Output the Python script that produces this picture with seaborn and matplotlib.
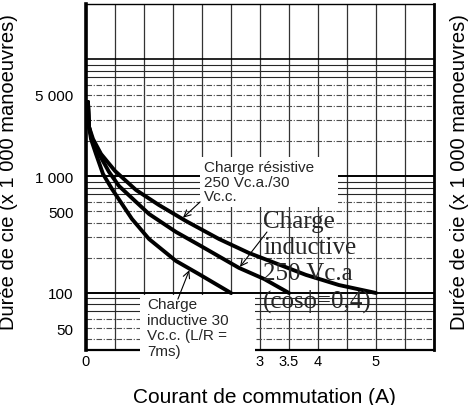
import numpy as np
import pandas as pd
import matplotlib
matplotlib.use('Agg')
import matplotlib.pyplot as plt
import seaborn as sns
from matplotlib.patches import Rectangle
from matplotlib.ticker import FixedLocator, FixedFormatter, MultipleLocator, NullFormatter

# Courbes (courant en A, durée en x 1 000 manoeuvres)
res_current = [0.034, 0.052, 0.121, 0.259, 0.5, 0.862, 1.259, 1.724, 2.293, 2.81, 3.79, 4.36, 5.0]
res_life = [4320, 2640, 2080, 1550, 1109, 762, 566, 413, 290, 220, 143, 117, 100]

ind250_current = [0.034, 0.052, 0.103, 0.224, 0.397, 0.569, 1.086, 1.552, 1.948, 2.638, 3.069, 3.5]
ind250_life = [4320, 2640, 2080, 1550, 1087, 824, 475, 333, 258, 164, 132, 100]

ind30_current = [0.034, 0.052, 0.086, 0.172, 0.293, 0.448, 0.793, 1.086, 1.552, 1.948, 2.5]
ind30_life = [4320, 2640, 2080, 1550, 1045, 777, 430, 290, 188, 145, 100]

y_tick_values = [50, 100, 500, 1000, 5000]
y_tick_labels = ['50', '100', '500', '1 000', '5 000']
x_tick_values = [0, 3, 3.5, 4, 5]
x_tick_labels = ['0', '3', '3.5', '4', '5']

df = pd.concat([
    pd.DataFrame({'courant': res_current, 'duree': res_life, 'courbe': 'res'}),
    pd.DataFrame({'courant': ind250_current, 'duree': ind250_life, 'courbe': 'ind250'}),
    pd.DataFrame({'courant': ind30_current, 'duree': ind30_life, 'courbe': 'ind30'}),
])

sns.set_theme(style='white')
plt.rcParams['font.family'] = ['Liberation Sans', 'DejaVu Sans']

fig = plt.figure(figsize=(4.71, 4.06), dpi=100)
ax = fig.add_axes([86 / 471, 1 - 351 / 406, 348 / 471, 346 / 406])

sns.lineplot(data=df, x='courant', y='duree', hue='courbe', units='courbe', estimator=None,
             sort=False, palette=['black'] * 3, linewidth=2.8, legend=False, ax=ax, zorder=4)

ax.set_yscale('log')
ax.set_xlim(0, 6)
ax.set_ylim(32.5, 29800)

# grille type papier log
ax.xaxis.set_minor_locator(MultipleLocator(0.5))
ax.grid(which='minor', axis='x', color='0.2', lw=0.9)
ax.grid(which='major', axis='x', color='0.2', lw=0.9)
for k in (10, 100, 1000):
    for m in range(1, 10):
        v = m * k
        if v < 33:
            continue
        if m == 1:
            ax.axhline(v, color='black', lw=1.4, zorder=1)
        elif m >= 7:
            ax.axhline(v, color='0.15', lw=0.8, zorder=1)
        else:
            ax.axhline(v, color='0.3', lw=0.8, ls=(0, (5, 1.5, 1, 1.5)), zorder=1)
ax.axhline(10000, color='black', lw=1.2, zorder=1)

ax.yaxis.set_major_locator(FixedLocator(y_tick_values))
ax.yaxis.set_major_formatter(FixedFormatter(y_tick_labels))
ax.yaxis.set_minor_locator(FixedLocator([]))
ax.yaxis.set_minor_formatter(NullFormatter())
ax.xaxis.set_major_locator(FixedLocator(x_tick_values))
ax.xaxis.set_major_formatter(FixedFormatter(x_tick_labels))
ax.tick_params(axis='y', length=0, pad=9, labelsize=11, colors='black')
ax.tick_params(axis='x', length=0, pad=3, labelsize=10.5, colors='black')
ax.tick_params(which='minor', length=0)

for side, lw in (('left', 2.6), ('bottom', 1.6), ('right', 2.0), ('top', 1.0)):
    ax.spines[side].set_visible(True)
    ax.spines[side].set_color('black')
    ax.spines[side].set_linewidth(lw)

ax.set_xlabel('Courant de commutation (A)', fontsize=15, color='black')
ax.set_ylabel('Durée de cie (x 1 000 manoeuvres)', fontsize=14.5, color='black')
ax.xaxis.set_label_coords(0.514, -0.107)
ax.yaxis.set_label_coords(-0.196, 0.517)
ax.text(1.074, 0.517, 'Durée de cie (x 1 000 manoeuvres)', transform=ax.transAxes,
        rotation=90, fontsize=14.5, ha='center', va='center', color='black')


def on_curve(xs, ys, x):
    return float(10 ** np.interp(x, xs, np.log10(ys)))


# fonds blancs des étiquettes
ax.add_patch(Rectangle((0.328, 0.413), 0.396, 0.145, transform=ax.transAxes,
                       facecolor='white', edgecolor='none', zorder=5))
ax.add_patch(Rectangle((0.155, -0.055), 0.331, 0.214, transform=ax.transAxes,
                       facecolor='white', edgecolor='none', zorder=5, clip_on=False))

ax.text(0.339, 0.549, 'Charge résistive\n250 Vc.a./30\nVc.c.', transform=ax.transAxes,
        fontsize=11, ha='left', va='top', linespacing=1.05, zorder=6)
ax.text(0.509, 0.405, 'Charge\ninductive\n250 Vc.a\n(cosϕ=0,4)', transform=ax.transAxes,
        fontsize=18, ha='left', va='top', linespacing=1.25, zorder=6,
        family=['Liberation Serif', 'DejaVu Serif'])
ax.text(0.175, 0.153, 'Charge\ninductive 30\nVc.c. (L/R =\n7ms)', transform=ax.transAxes,
        fontsize=11, ha='left', va='top', linespacing=1.15, zorder=6, clip_on=False)

arrow = dict(arrowstyle='->', lw=0.8, color='black', shrinkA=0, shrinkB=1)
ax.annotate('', xy=(1.655, on_curve(res_current, res_life, 1.655)), xycoords='data',
            xytext=(0.328, 0.428), textcoords='axes fraction', arrowprops=arrow, zorder=7)
ax.annotate('', xy=(2.64, on_curve(ind250_current, ind250_life, 2.64)), xycoords='data',
            xytext=(0.520, 0.341), textcoords='axes fraction', arrowprops=arrow, zorder=7)
ax.annotate('', xy=(1.79, on_curve(ind30_current, ind30_life, 1.79)), xycoords='data',
            xytext=(0.264, 0.147), textcoords='axes fraction', arrowprops=arrow, zorder=7)

fig.savefig('out.png', dpi=100)
